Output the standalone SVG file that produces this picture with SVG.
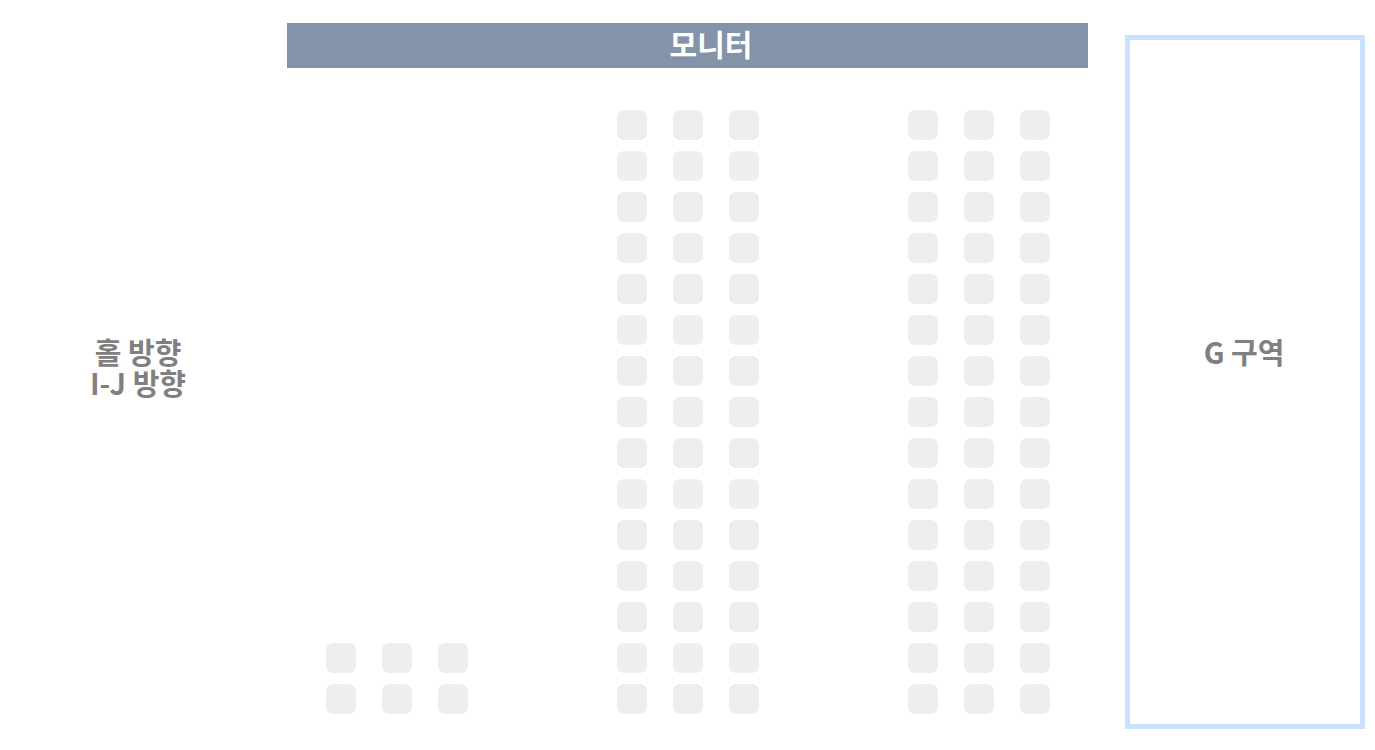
<svg xmlns="http://www.w3.org/2000/svg" width="1375" height="750" viewBox="0 0 1375 750">
<defs>
<style>
.seat{fill:#eeeeee}
.lbl{font-family:"Noto Sans CJK KR","Noto Sans",sans-serif;font-weight:bold;font-size:29px;fill:#808080;text-anchor:middle}
.hdr{font-family:"Noto Sans CJK KR","Noto Sans",sans-serif;font-weight:bold;font-size:30px;fill:#ffffff;text-anchor:middle}
</style>
<rect id="s" class="seat" width="30" height="30" rx="7"/>
<g id="col">
<use href="#s" y="110"/><use href="#s" y="151"/><use href="#s" y="192"/><use href="#s" y="233"/><use href="#s" y="274"/><use href="#s" y="315"/><use href="#s" y="356"/><use href="#s" y="397"/><use href="#s" y="438"/><use href="#s" y="479"/><use href="#s" y="520"/><use href="#s" y="561"/><use href="#s" y="602"/><use href="#s" y="643"/><use href="#s" y="684"/>
</g>
</defs>
<rect width="1375" height="750" fill="#ffffff"/>
<g id="monitor">
<rect x="287" y="23" width="801" height="45" fill="#8293aa"/>
<text class="hdr" x="711" y="56">모니터</text>
</g>
<g id="hall-label">
<text class="lbl" x="138" y="364">홀 방향</text>
<text class="lbl" x="138" y="395">I-J 방향</text>
</g>
<g id="g-zone">
<rect x="1127.5" y="37.5" width="235" height="689" fill="#ffffff" stroke="#cce0ff" stroke-width="5"/>
<text class="lbl" x="1244" y="364">G 구역</text>
</g>
<g id="seats-left">
<use href="#s" x="326" y="643"/><use href="#s" x="382" y="643"/><use href="#s" x="438" y="643"/>
<use href="#s" x="326" y="684"/><use href="#s" x="382" y="684"/><use href="#s" x="438" y="684"/>
</g>
<g id="seats-middle">
<use href="#col" x="617"/><use href="#col" x="673"/><use href="#col" x="729"/>
</g>
<g id="seats-right">
<use href="#col" x="908"/><use href="#col" x="964"/><use href="#col" x="1020"/>
</g>
<g id="connectors"/>
</svg>
